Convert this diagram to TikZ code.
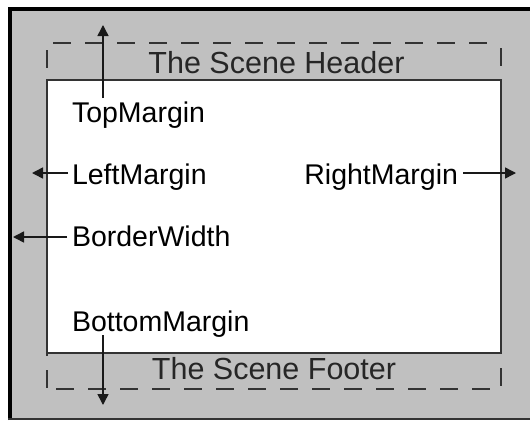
\documentclass[tikz,border=0pt]{standalone}
\usepackage{fontspec}
\setmainfont{Liberation Sans}
\usetikzlibrary{arrows.meta}
\definecolor{panelgray}{HTML}{C0C0C0}
\definecolor{edgegray}{HTML}{333333}
\tikzset{
  lbl/.style={inner sep=0pt, outer sep=0pt, text=black, font=\fontsize{28.5}{32}\selectfont},
  ttl/.style={inner sep=0pt, outer sep=0pt, text=black!85, font=\fontsize{30.5}{34}\selectfont, anchor=base},
  arr/.style={draw=black!90, line width=1.5pt, -{Triangle[length=11pt,width=11pt]}},
  dsh/.style={draw=edgegray, line width=2pt, dash pattern=on 18pt off 14pt},
}
\begin{document}
\begin{tikzpicture}[x=1pt,y=-1pt]
\useasboundingbox (0,0) rectangle (530,421);
\fill[white] (0,0) rectangle (530,421);
% frame
\fill[panelgray] (8,7) rectangle (530,420);
\draw[black, line width=4pt] (10,420) -- (10,9) -- (530,9);
\draw[edgegray, line width=1.3pt] (8,419) -- (530,419);
% dashed scene rectangle
\draw[dsh, dash phase=26pt] (47,43) -- (501,43);
\draw[dsh, dash phase=25pt] (47,43) -- (47,389);
\draw[dsh, dash phase=27pt] (501,43) -- (501,389);
\draw[dsh, dash phase=23pt] (47,389) -- (501,389);
% inner area
\draw[fill=white, draw=edgegray, line width=2pt] (47,80) rectangle (501,353);
% titles
\node[ttl] (hdr) at (276.5,73) {The Scene Header};
\node[ttl] (ftr) at (274,379) {The Scene Footer};
% labels
\node[lbl, anchor=base west] (tm) at (72,122.5) {TopMargin};
\node[lbl, anchor=base west] (lm) at (72,184) {LeftMargin};
\node[lbl, anchor=base east] (rm) at (458,184) {RightMargin};
\node[lbl, anchor=base west] (bw) at (72,246.5) {BorderWidth};
\node[lbl, anchor=base west] (bm) at (72,331) {BottomMargin};
% arrow tips
\coordinate (tmtip) at (103,25);
\coordinate (lmtip) at (32,173);
\coordinate (rmtip) at (516,173);
\coordinate (bwtip) at (13,237);
\coordinate (bmtip) at (103,405);
% arrows
\draw[arr] ([shift={(31,-24.5)}]tm.base west) -- (tmtip);
\draw[arr] ([shift={(-4,-11)}]lm.base west) -- (lmtip);
\draw[arr] ([shift={(5,-11)}]rm.base east) -- (rmtip);
\draw[arr] ([shift={(-5,-9.5)}]bw.base west) -- (bwtip);
\draw[arr] ([shift={(31,4)}]bm.base west) -- (bmtip);
\end{tikzpicture}
\end{document}
